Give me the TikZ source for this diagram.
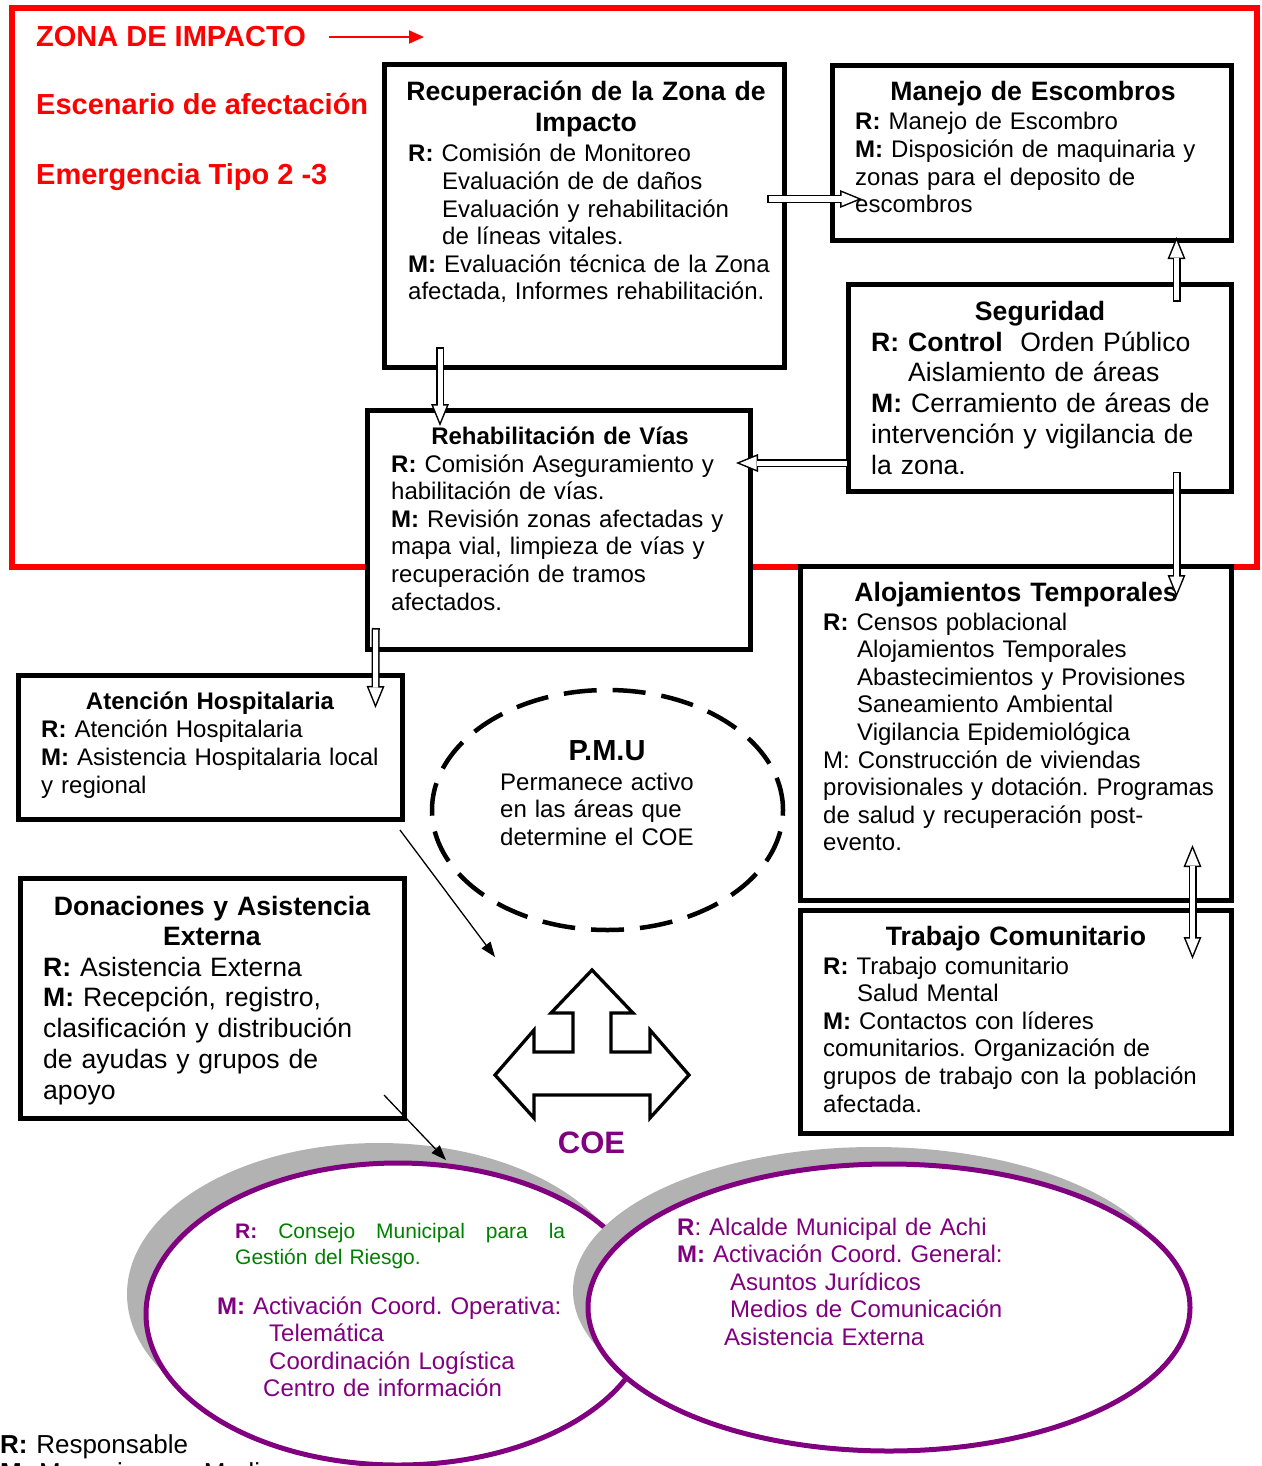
\documentclass[tikz,border=0pt]{standalone}
\usepackage{fontspec}
\setmainfont{Liberation Sans}
\usetikzlibrary{arrows.meta, shapes.geometric, shadows}
\frenchspacing

\definecolor{morado}{RGB}{128,0,128}
\definecolor{verde}{RGB}{0,128,0}

\newcommand{\fcuerpo}{\fontsize{24}{27.6}\selectfont}
\newcommand{\fgrande}{\fontsize{26.6}{30.8}\selectfont}

\tikzset{
  caja/.style={draw, line width=5pt, fill=white, rectangle, inner sep=0pt, outer sep=0pt},
  titulo/.style={anchor=base, align=center, text width=380pt, inner sep=0pt, font=\bfseries\fgrande},
  texto/.style={anchor=base west, align=left, text width=420pt, inner sep=0pt, font=\fcuerpo},
  rojo/.style={anchor=base west, inner sep=0pt, text=red, font=\bfseries\fontsize{29}{34}\selectfont},
  hueca/.style={white, line width=5pt, shorten <=1.5pt, shorten >=4pt,
    -{Triangle[length=16.5pt, width=13.5pt, line width=0pt]},
    preaction={draw=black, line width=8pt, shorten <=0pt, shorten >=0pt,
      -{Triangle[length=22pt, width=18pt, line width=0pt]}}},
  huecadoble/.style={white, line width=5pt, shorten <=4pt, shorten >=4pt,
    {Triangle[length=16.5pt, width=13.5pt, line width=0pt]}-{Triangle[length=16.5pt, width=13.5pt, line width=0pt]},
    preaction={draw=black, line width=8pt, shorten <=0pt, shorten >=0pt,
      {Triangle[length=22pt, width=18pt, line width=0pt]}-{Triangle[length=22pt, width=18pt, line width=0pt]}}},
  flecha/.style={line width=1.3pt, -{Triangle[length=15pt, width=11pt]}},
  elipse/.style={ellipse, draw=morado, line width=5pt, fill=white, inner sep=0pt, outer sep=0pt}
}

\begin{document}
\begin{tikzpicture}[x=1pt, y=-1pt]
\useasboundingbox (0,0) rectangle (1261,1466);

% zona de impacto
\draw[red, line width=6pt] (12,8.5) rectangle (1257,567);
\node[rojo] (zona) at (36,47) {ZONA DE IMPACTO};
\node[rojo] (escen) at (36,115) {Escenario de afectación};
\node[rojo] (emerg) at (36,185) {Emergencia Tipo 2 -3};
\draw[red, line width=2pt, -{Triangle[length=15pt, width=13pt]}] ([xshift=23pt]zona.east) -- ([xshift=118pt]zona.east);

% cajas
\node[caja, minimum width=400pt, minimum height=302pt] (rec) at (584,216) {};
\node[caja, minimum width=399pt, minimum height=174pt] (esc) at (1031.5,153) {};
\node[caja, minimum width=383pt, minimum height=206.5pt] (seg) at (1040,388) {};
\node[caja, minimum width=382.5pt, minimum height=239pt] (rehab) at (558.75,529.5) {};
\node[caja, minimum width=431.5pt, minimum height=333.5pt] (aloj) at (1015.75,733.25) {};
\node[caja, minimum width=431.5pt, minimum height=223pt] (trab) at (1015.75,1021.5) {};
\node[caja, minimum width=384pt, minimum height=144.5pt] (hosp) at (210.5,747.25) {};
\node[caja, minimum width=384.5pt, minimum height=239.5pt] (don) at (212.25,998.25) {};

\node[titulo] (rec-tit) at (586,101) {Recuperación de la Zona de\\Impacto};
\node[texto] (rec-txt) at (408,162) {\textbf{R:} Comisión de Monitoreo\\
  \hspace*{34pt}Evaluación de de daños\\
  \hspace*{34pt}Evaluación y rehabilitación\\
  \hspace*{34pt}de líneas vitales.\\
  \textbf{M:} Evaluación técnica de la Zona\\
  afectada, Informes rehabilitación.};

\node[titulo] (esc-tit) at (1033,101) {Manejo de Escombros};
\node[texto] (esc-txt) at (855,130) {\textbf{R:} Manejo de Escombro\\
  \textbf{M:} Disposición de maquinaria y\\
  zonas para el deposito de\\
  escombros};

\node[titulo] (seg-tit) at (1040,320) {Seguridad};
\node[texto, font=\fgrande] (seg-txt) at (871,351) {\textbf{R: Control}\ \ Orden Público\\
  \hspace*{37pt}Aislamiento de áreas\\
  \textbf{M:} Cerramiento de áreas de\\
  intervención y vigilancia de\\
  la zona.};

\node[titulo, font=\bfseries\fcuerpo] (rehab-tit) at (560,444) {Rehabilitación de Vías};
\node[texto] (rehab-txt) at (391,472) {\textbf{R:} Comisión Aseguramiento y\\
  habilitación de vías.\\
  \textbf{M:} Revisión zonas afectadas y\\
  mapa vial, limpieza de vías y\\
  recuperación de tramos\\
  afectados.};

\node[titulo] (aloj-tit) at (1016,601) {Alojamientos Temporales};
\node[texto] (aloj-txt) at (823,630) {\textbf{R:} Censos poblacional\\
  \hspace*{34pt}Alojamientos Temporales\\
  \hspace*{34pt}Abastecimientos y Provisiones\\
  \hspace*{34pt}Saneamiento Ambiental\\
  \hspace*{34pt}Vigilancia Epidemiológica\\
  M: Construcción de viviendas\\
  provisionales y dotación. Programas\\
  de salud y recuperación post-\\
  evento.};

\node[titulo] (trab-tit) at (1016,945) {Trabajo Comunitario};
\node[texto] (trab-txt) at (823,974) {\textbf{R:} Trabajo comunitario\\
  \hspace*{34pt}Salud Mental\\
  \textbf{M:} Contactos con líderes\\
  comunitarios. Organización de\\
  grupos de trabajo con la población\\
  afectada.};

\node[titulo, font=\bfseries\fcuerpo] (hosp-tit) at (210,709) {Atención Hospitalaria};
\node[texto, font=\fontsize{24}{28}\selectfont] (hosp-txt) at (41,737) {\textbf{R:} Atención Hospitalaria\\
  \textbf{M:} Asistencia Hospitalaria local\\
  y regional};

\node[titulo, font=\bfseries\fontsize{26.6}{30}\selectfont] (don-tit) at (212,915) {Donaciones y Asistencia\\Externa};
\node[texto, font=\fgrande] (don-txt) at (43,976) {\textbf{R:} Asistencia Externa\\
  \textbf{M:} Recepción, registro,\\
  clasificación y distribución\\
  de ayudas y grupos de\\
  apoyo};

% flechas huecas
\draw[hueca] ([shift={(-17,-17)}]rec.east) -- ([shift={(30,46)}]esc.west);
\draw[hueca] ([shift={(-144,-20)}]rec.south) -- ([shift={(-118.75,16)}]rehab.north);
\draw[hueca] ([shift={(136.5,17)}]seg.north) -- ([shift={(145,-3)}]esc.south);
\draw[hueca] ([shift={(0,75)}]seg.west) -- ([shift={(-14,-66.5)}]rehab.east);
\draw[hueca] ([shift={(136.5,-19.5)}]seg.south) -- ([shift={(160.75,30.5)}]aloj.north);
\draw[hueca] ([shift={(-183,-21)}]rehab.south) -- ([shift={(165,33)}]hosp.north);
\draw[huecadoble] ([shift={(176.75,-55)}]aloj.south) -- ([shift={(176.75,49)}]trab.north);

% P.M.U
\node[ellipse, draw, line width=4.5pt, dash pattern=on 33pt off 16pt, minimum width=351pt, minimum height=240pt, inner sep=0pt] (pmu) at (607.5,810) {};
\node[anchor=base, inner sep=0pt, font=\bfseries\fontsize{29}{34}\selectfont] (pmu-tit) at (607,760) {P.M.U};
\node[texto, font=\fontsize{24}{27.5}\selectfont] (pmu-txt) at (500,790) {Permanece activo\\en las áreas que\\determine el COE};

% COE
\coordinate (coe) at (592,1075);
\begin{scope}[shift={(592,1075)}]
\draw[line width=3.3pt, line join=miter] (0,-105) -- (41,-62) -- (19,-62) -- (19,-23) -- (58,-23) -- (58,-45)
  -- (97,0) -- (58,43) -- (58,20) -- (-58,20) -- (-58,43) -- (-97,0) -- (-58,-45) -- (-58,-23)
  -- (-19,-23) -- (-19,-62) -- (-41,-62) -- cycle;
\end{scope}
\node[anchor=base, inner sep=0pt, text=morado, font=\bfseries\fontsize{31}{36}\selectfont] (coe-tit) at (591.5,1153) {COE};

\node[elipse, minimum width=504pt, minimum height=302pt,
  drop shadow={shadow xshift=-19pt, shadow yshift=20pt, fill=gray!60, opacity=1}] (coeizq) at (398,1314) {};
\node[elipse, minimum width=602pt, minimum height=287pt,
  drop shadow={shadow xshift=-15pt, shadow yshift=17pt, fill=gray!60, opacity=1}] (coeder) at (889,1307.5) {};

\node[texto, text=verde, font=\fontsize{21}{26}\selectfont] (izq-r) at (235,1238) {\hbox to 330pt{\textcolor{morado}{\textbf{R:}}\hfill Consejo\hfill Municipal\hfill para\hfill la}\\
  Gestión del Riesgo.};
\node[texto, text=morado, font=\fontsize{24}{27.5}\selectfont] (izq-m) at (217,1314) {\textbf{M:} Activación Coord. Operativa:\\
  \hspace*{52pt}Telemática\\
  \hspace*{52pt}Coordinación Logística\\
  \hspace*{46pt}Centro de información};
\node[texto, text=morado, font=\fontsize{24}{27.5}\selectfont] (der-txt) at (677,1235) {\textbf{R}: Alcalde Municipal de Achi\\
  \textbf{M:} Activación Coord. General:\\
  \hspace*{53pt}Asuntos Jurídicos\\
  \hspace*{53pt}Medios de Comunicación\\
  \hspace*{47pt}Asistencia Externa};

% flechas finas
\draw[flecha] ([shift={(-2.5,10.5)}]hosp.south east) -- ([shift={(-97,-118)}]coe);
\draw[flecha] ([shift={(-20.5,-23)}]don.south east) -- ([shift={(48,-3)}]coeizq.north);

% leyenda
\node[texto, font=\fontsize{26}{28}\selectfont] (leyenda) at (0,1453) {\textbf{R:} Responsable\\\textbf{M:} Mecanismo o Medio};

\end{tikzpicture}
\end{document}
